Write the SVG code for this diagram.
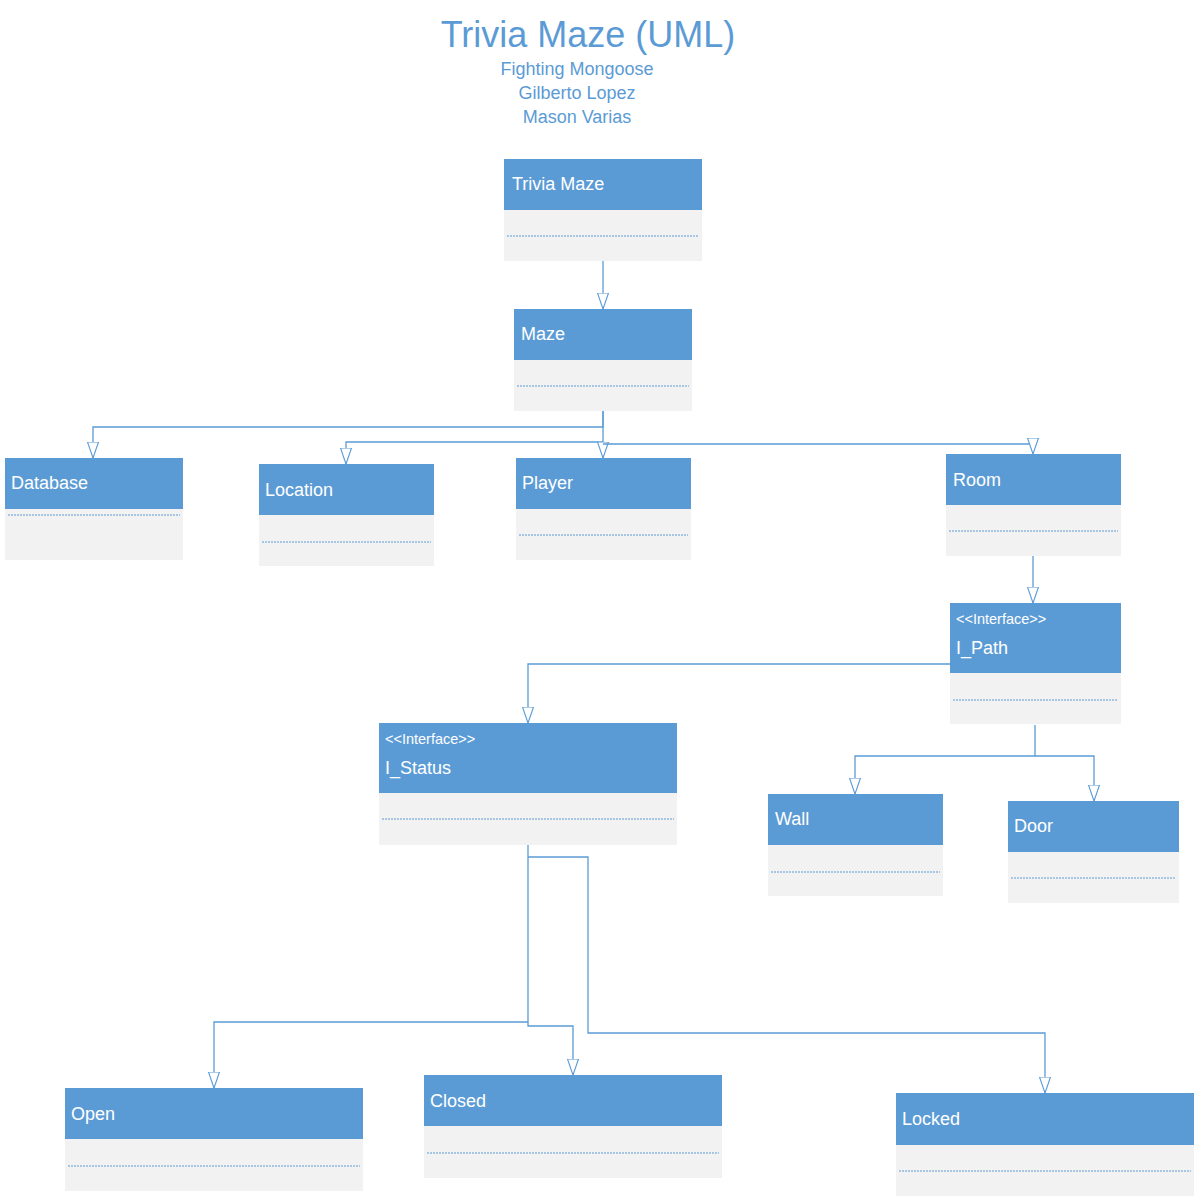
<svg xmlns="http://www.w3.org/2000/svg" width="1196" height="1198" viewBox="0 0 1196 1198">
<defs>
<style>
.hd{fill:#5B9BD5}
.bd{fill:#F2F2F2}
.dot{stroke:#5B9BD5;stroke-width:1;stroke-dasharray:2 1;fill:none}
.nm{font-family:"Liberation Sans",Arial,sans-serif;font-size:18px;fill:#FFFFFF}
.st{font-family:"Liberation Sans",Arial,sans-serif;font-size:14.5px;fill:#FFFFFF}
.ttl{font-family:"Liberation Sans",Arial,sans-serif;fill:#5B9BD5;text-anchor:middle}
.cn{fill:none;stroke:#5B9BD5;stroke-width:1.3;marker-end:url(#tri)}
</style>
<marker id="tri" markerUnits="userSpaceOnUse" viewBox="0 -7 18 14" refX="16.5" refY="0" markerWidth="18" markerHeight="14" orient="auto">
<path d="M0.5,-5.5 L16.5,0 L0.5,5.5 Z" fill="#FFFFFF" stroke="#5B9BD5" stroke-width="1.1"/>
</marker>
</defs>
<rect width="1196" height="1198" fill="#FFFFFF"/>

<g id="title">
<text class="ttl" x="588" y="47" font-size="36">Trivia Maze (UML)</text>
<text class="ttl" x="577" y="75" font-size="18">Fighting Mongoose</text>
<text class="ttl" x="577" y="99" font-size="18">Gilberto Lopez</text>
<text class="ttl" x="577" y="123" font-size="18">Mason Varias</text>
</g>

<g id="connectors">
<path class="cn" d="M603,261 V309"/>
<path class="cn" d="M603,411 V427 H93 V458"/>
<path class="cn" d="M603,442 H346 V464"/>
<path class="cn" d="M603,411 V458"/>
<path class="cn" d="M603,444 H1033 V454"/>
<path class="cn" d="M1033,556 V603"/>
<path class="cn" d="M950,664 H528 V723"/>
<path class="cn" d="M1035,725 V756 H855 V794"/>
<path class="cn" d="M1035,756 H1094 V801"/>
<path class="cn" d="M528,845 V1022 H214 V1088"/>
<path class="cn" d="M528,1022 V1026 H573 V1075"/>
<path class="cn" d="M528,857 H588 V1033 H1045 V1093"/>
</g>

<g id="node-trivia-maze">
<rect class="hd" x="504" y="159" width="198" height="51"/>
<rect class="bd" x="504" y="210" width="198" height="51"/>
<line class="dot" x1="507" y1="236" x2="699" y2="236"/>
<text class="nm" x="512" y="190">Trivia Maze</text>
</g>

<g id="node-maze">
<rect class="hd" x="514" y="309" width="178" height="51"/>
<rect class="bd" x="514" y="360" width="178" height="51"/>
<line class="dot" x1="517" y1="386" x2="689" y2="386"/>
<text class="nm" x="521" y="340">Maze</text>
</g>

<g id="node-database">
<rect class="hd" x="5" y="458" width="178" height="51"/>
<rect class="bd" x="5" y="509" width="178" height="51"/>
<line class="dot" x1="8" y1="515" x2="180" y2="515"/>
<text class="nm" x="11" y="489">Database</text>
</g>

<g id="node-location">
<rect class="hd" x="259" y="464" width="175" height="51"/>
<rect class="bd" x="259" y="515" width="175" height="51"/>
<line class="dot" x1="262" y1="542" x2="431" y2="542"/>
<text class="nm" x="265" y="496">Location</text>
</g>

<g id="node-player">
<rect class="hd" x="516" y="458" width="175" height="51"/>
<rect class="bd" x="516" y="509" width="175" height="51"/>
<line class="dot" x1="519" y1="535" x2="688" y2="535"/>
<text class="nm" x="522" y="489">Player</text>
</g>

<g id="node-room">
<rect class="hd" x="946" y="454" width="175" height="51"/>
<rect class="bd" x="946" y="505" width="175" height="51"/>
<line class="dot" x1="949" y1="531" x2="1118" y2="531"/>
<text class="nm" x="953" y="486">Room</text>
</g>

<g id="node-i-path">
<rect class="hd" x="950" y="603" width="171" height="70"/>
<rect class="bd" x="950" y="673" width="171" height="51"/>
<line class="dot" x1="953" y1="700" x2="1118" y2="700"/>
<text class="st" x="956" y="624">&lt;&lt;Interface&gt;&gt;</text>
<text class="nm" x="956" y="654">I_Path</text>
</g>

<g id="node-i-status">
<rect class="hd" x="379" y="723" width="298" height="70"/>
<rect class="bd" x="379" y="793" width="298" height="52"/>
<line class="dot" x1="382" y1="819" x2="674" y2="819"/>
<text class="st" x="385" y="744">&lt;&lt;Interface&gt;&gt;</text>
<text class="nm" x="385" y="774">I_Status</text>
</g>

<g id="node-wall">
<rect class="hd" x="768" y="794" width="175" height="51"/>
<rect class="bd" x="768" y="845" width="175" height="51"/>
<line class="dot" x1="771" y1="872" x2="940" y2="872"/>
<text class="nm" x="775" y="825">Wall</text>
</g>

<g id="node-door">
<rect class="hd" x="1008" y="801" width="171" height="51"/>
<rect class="bd" x="1008" y="852" width="171" height="51"/>
<line class="dot" x1="1011" y1="878" x2="1176" y2="878"/>
<text class="nm" x="1014" y="832">Door</text>
</g>

<g id="node-open">
<rect class="hd" x="65" y="1088" width="298" height="51"/>
<rect class="bd" x="65" y="1139" width="298" height="52"/>
<line class="dot" x1="68" y1="1166" x2="360" y2="1166"/>
<text class="nm" x="71" y="1120">Open</text>
</g>

<g id="node-closed">
<rect class="hd" x="424" y="1075" width="298" height="51"/>
<rect class="bd" x="424" y="1126" width="298" height="52"/>
<line class="dot" x1="427" y1="1153" x2="719" y2="1153"/>
<text class="nm" x="430" y="1107">Closed</text>
</g>

<g id="node-locked">
<rect class="hd" x="896" y="1093" width="298" height="52"/>
<rect class="bd" x="896" y="1145" width="298" height="51"/>
<line class="dot" x1="899" y1="1171" x2="1191" y2="1171"/>
<text class="nm" x="902" y="1125">Locked</text>
</g>
</svg>
